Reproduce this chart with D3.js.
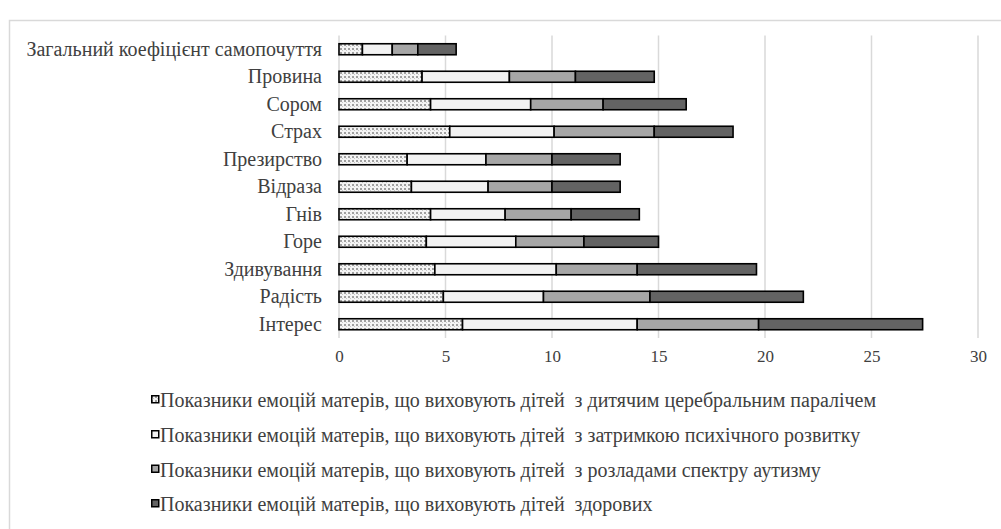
<!DOCTYPE html>
<html><head><meta charset="utf-8">
<script src="https://cdn.jsdelivr.net/npm/d3@7"></script>
<style>html,body{margin:0;padding:0;background:#fff;}svg{display:block;}</style>
</head><body>
<script>
const categories = ["Загальний коефіцієнт самопочуття","Провина","Сором","Страх","Презирство","Відраза","Гнів","Горе","Здивування","Радість","Інтерес"];
const seriesNames = [
  "Показники емоцій матерів, що виховують дітей  з дитячим церебральним паралічем",
  "Показники емоцій матерів, що виховують дітей  з затримкою психічного розвитку",
  "Показники емоцій матерів, що виховують дітей  з розладами спектру аутизму",
  "Показники емоцій матерів, що виховують дітей  здорових"
];
const cerebralPalsy = [1.1, 3.9, 4.3, 5.2, 3.2, 3.4, 4.3, 4.1, 4.5, 4.9, 5.8];
const developmentDelay = [1.4, 4.1, 4.7, 4.9, 3.7, 3.6, 3.5, 4.2, 5.7, 4.7, 8.2];
const autism = [1.2, 3.1, 3.4, 4.7, 3.1, 3.0, 3.1, 3.2, 3.8, 5.0, 5.7];
const healthy = [1.8, 3.7, 3.9, 3.7, 3.2, 3.2, 3.2, 3.5, 5.6, 7.2, 7.7];
const xTicks = [0, 5, 10, 15, 20, 25, 30];

const W = 1001, H = 529;
const svg = d3.select("body").append("svg").attr("width", W).attr("height", H);
const defs = svg.append("defs");
const pat = defs.append("pattern").attr("id","dots").attr("patternUnits","userSpaceOnUse")
  .attr("width",4).attr("height",4);
pat.append("rect").attr("width",4).attr("height",4).attr("fill","#f4f4f4");
pat.append("rect").attr("x",0).attr("y",0).attr("width",2).attr("height",2).attr("fill","#a0a0a0");
pat.append("rect").attr("x",2).attr("y",2).attr("width",1).attr("height",1).attr("fill","#c8c8c8");

const fills = ["url(#dots)", "#f2f2f2", "#a6a6a6", "#636363"];
const font = "'Liberation Serif', Tinos, 'Times New Roman', Times, 'DejaVu Serif', serif";
const textColor = "#404040";

// frame
svg.append("rect").attr("x",9.5).attr("y",20.5).attr("width",1000).attr("height",520)
  .attr("fill","none").attr("stroke","#d9d9d9").attr("stroke-width",1.5);

const x = d3.scaleLinear().domain([0,30]).range([339, 978]);
const y = d3.scaleBand().domain(categories).range([35.5, 338]).paddingInner(0.6).paddingOuter(0.3);

// gridlines
svg.append("g").selectAll("line").data(xTicks).join("line")
  .attr("x1", d=>x(d)).attr("x2", d=>x(d)).attr("y1", 35.5).attr("y2", 338)
  .attr("stroke","#d9d9d9").attr("stroke-width",1.5);

// x axis labels
const xAxis = d3.axisBottom(x).tickValues(xTicks).tickSize(0).tickPadding(0);
const gx = svg.append("g").attr("transform","translate(0,350)").call(xAxis);
gx.select(".domain").remove();
gx.attr("font-family",null).attr("font-size",null);
gx.selectAll("text").style("font-family",font).style("font-size","17px").attr("fill",textColor);

// y axis labels
const yAxis = d3.axisLeft(y).tickSize(0).tickPadding(0);
const gy = svg.append("g").attr("transform","translate(322,0)").call(yAxis);
gy.select(".domain").remove();
gy.attr("font-family",null).attr("font-size",null);
gy.selectAll("text").style("font-family",font).style("font-size","20px").attr("fill",textColor);

// stacked bars
const table = categories.map((c,i)=>({cat:c, s0:cerebralPalsy[i], s1:developmentDelay[i], s2:autism[i], s3:healthy[i]}));
const stack = d3.stack().keys(["s0","s1","s2","s3"])(table);
const gb = svg.append("g");
stack.forEach((layer, k) => {
  gb.append("g").selectAll("rect").data(layer).join("rect")
    .attr("x", d=>x(d[0])).attr("width", d=>x(d[1])-x(d[0]))
    .attr("y", d=>y(d.data.cat)).attr("height", y.bandwidth())
    .attr("fill", fills[k]).attr("stroke","#000").attr("stroke-width",1.6);
});

// legend
const legendY = [400, 435, 469.5, 504];
const lg = svg.append("g");
seriesNames.forEach((name,k)=>{
  const g = lg.append("g").attr("transform",`translate(151,${legendY[k]})`);
  g.append("rect").attr("x",0.75).attr("y",-4.25).attr("width",7).attr("height",7)
    .attr("fill", fills[k]).attr("stroke","#000").attr("stroke-width",1.5);
  g.append("text").attr("x",9).attr("y",0).attr("dy","0.35em")
    .style("font-family",font).style("font-size","20px").attr("fill",textColor)
    .style("white-space","pre").text(name);
});
</script>
</body></html>
